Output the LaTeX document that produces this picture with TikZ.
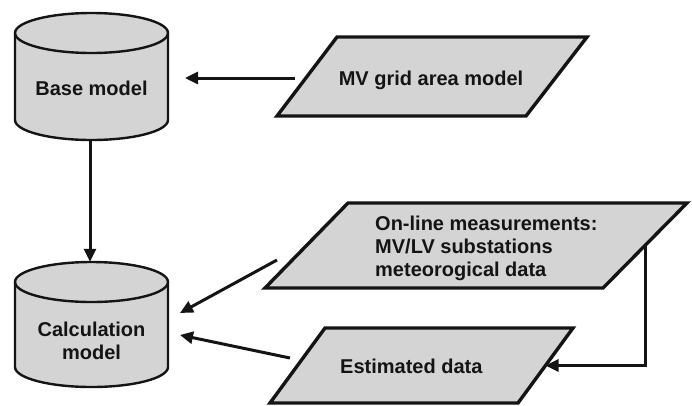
\documentclass[tikz,border=0pt]{standalone}
\usepackage{fontspec}
\setmainfont{Liberation Sans}
\usetikzlibrary{arrows.meta}
\definecolor{boxfill}{RGB}{212,212,212}
\definecolor{ink}{RGB}{20,20,20}
\tikzset{
  cylbody/.style={draw=ink, fill=boxfill, line width=2.4pt, line join=round},
  cylrim/.style={draw=ink, line width=2.4pt},
  databox/.style={draw=ink, fill=boxfill, line width=3.4pt, line join=miter},
  label/.style={font=\fontsize{20}{23}\selectfont\bfseries, text=ink, inner sep=0pt},
  flow/.style={draw=ink, line width=3pt, -{Triangle[length=13pt,width=12pt]}},
}
\begin{document}
\begin{tikzpicture}[x=1pt,y=1pt]
\useasboundingbox (0,0) rectangle (692,-405);

% Base model cylinder
\path[cylbody] (15,-33) -- (15,-120) arc[start angle=180,end angle=360,x radius=76.5pt,y radius=20pt]
  -- (168,-33) arc[start angle=0,end angle=180,x radius=76.5pt,y radius=20pt] -- cycle;
\draw[cylrim] (15,-33) arc[start angle=180,end angle=360,x radius=76.5pt,y radius=20pt];
\node[inner sep=0pt, minimum width=153pt, minimum height=127pt] (base) at (91.5,-76.5) {};
\node[label] (baselbl) at (91.5,-88) {Base model};

% Calculation model cylinder
\path[cylbody] (15,-282) -- (15,-367) arc[start angle=180,end angle=360,x radius=76.5pt,y radius=20pt]
  -- (168,-282) arc[start angle=0,end angle=180,x radius=76.5pt,y radius=20pt] -- cycle;
\draw[cylrim] (15,-282) arc[start angle=180,end angle=360,x radius=76.5pt,y radius=20pt];
\node[inner sep=0pt, minimum width=153pt, minimum height=125pt] (calc) at (91.5,-324.5) {};
\node[label, align=center] (calclbl) at (91.5,-341) {Calculation\\model};

% MV grid area model
\path[databox] (337,-37) -- (587,-37) -- (526,-116) -- (277,-116) -- cycle;
\node[label] (grid) at (431,-80) {MV grid area model};
\coordinate (gridout) at (295,-78);

% On-line measurements
\path[databox] (348,-203) -- (687,-203) -- (603,-288) -- (265,-288) -- cycle;
\node[label, align=left, anchor=west] (online) at (375,-248) {On-line measurements:\\MV/LV substations\\meteorogical data};
\coordinate (onlineright) at (645,-245.5);
\coordinate (onlineout) at (277,-260);

% Estimated data
\path[databox] (325,-328) -- (573,-328) -- (518,-403) -- (270,-403) -- cycle;
\node[label, anchor=west] (est) at (340,-366) {Estimated data};
\coordinate (estright) at (545.5,-365.5);
\coordinate (estout) at (290,-358);

% Connectors
\coordinate (calcin1) at (180,-313);
\coordinate (calcin2) at (180,-335);
\coordinate (basein) at (185,-78);
\draw[flow] (gridout) -- (basein);
\draw[flow] (base.south -| 90,0) -- (calc.north -| 90,0);
\draw[flow] (onlineout) -- (calcin1);
\draw[flow] (estout) -- (calcin2);
\draw[flow] (onlineright) -- (onlineright |- estright) -- (estright);
\end{tikzpicture}
\end{document}
